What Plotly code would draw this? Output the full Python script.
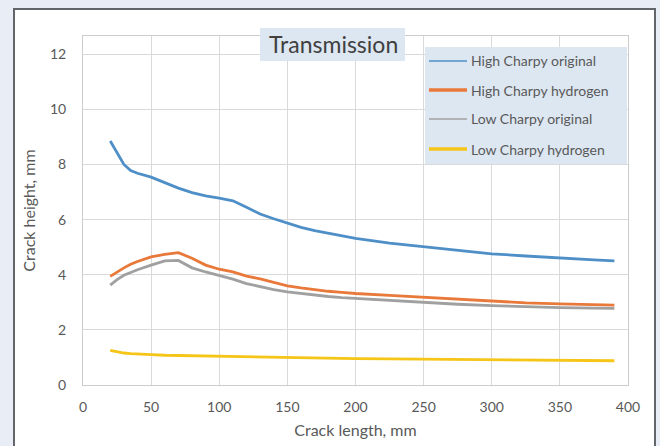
import plotly.graph_objects as go

crack_length = [20, 25, 30, 35, 40, 50, 60, 70, 80, 90, 100, 110, 120, 130, 140, 150,
                160, 170, 180, 190, 200, 225, 250, 275, 300, 325, 350, 375, 390]
high_charpy_original = [8.85, 8.4, 8.0, 7.78, 7.68, 7.54, 7.33, 7.14, 6.98, 6.86, 6.78, 6.68,
                        6.45, 6.2, 6.03, 5.87, 5.72, 5.6, 5.5, 5.4, 5.32, 5.15, 5.02, 4.9,
                        4.76, 4.68, 4.6, 4.54, 4.5]
high_charpy_hydrogen = [3.94, 4.1, 4.25, 4.38, 4.48, 4.65, 4.74, 4.8, 4.6, 4.35, 4.2, 4.1,
                        3.95, 3.85, 3.72, 3.6, 3.52, 3.45, 3.4, 3.36, 3.32, 3.25, 3.18, 3.1,
                        3.03, 2.98, 2.94, 2.91, 2.9]
low_charpy_original = [3.62, 3.82, 3.98, 4.08, 4.18, 4.35, 4.5, 4.52, 4.25, 4.1, 3.97, 3.84,
                       3.68, 3.56, 3.46, 3.38, 3.32, 3.26, 3.21, 3.17, 3.14, 3.06, 2.98, 2.93,
                       2.88, 2.84, 2.81, 2.79, 2.78]
low_charpy_hydrogen = [1.26, 1.2, 1.16, 1.14, 1.12, 1.1, 1.08, 1.07, 1.06, 1.05, 1.04, 1.03,
                       1.02, 1.01, 1.0, 0.99, 0.98, 0.98, 0.97, 0.97, 0.96, 0.95, 0.94, 0.93,
                       0.92, 0.91, 0.9, 0.89, 0.88]

series_names = ["High Charpy original", "High Charpy hydrogen",
                "Low Charpy original", "Low Charpy hydrogen"]
series_values = [high_charpy_original, high_charpy_hydrogen,
                 low_charpy_original, low_charpy_hydrogen]
colors = ["#4f8fc7", "#e8793a", "#a0a0a0", "#f5c518"]
legend_widths = [1.5, 3.5, 1.5, 3.5]

x_ticks = [0, 50, 100, 150, 200, 250, 300, 350, 400]
y_ticks = [0, 2, 4, 6, 8, 10, 12]

W, H = 660, 446
L, R, T, B = 83, 32, 36, 61
PW, PH = W - L - R, H - T - B

def px(x):
    return (x - L) / PW

def py(y):
    return (H - B - y) / PH

FONT = "Lato"
TXT = "#595959"

fig = go.Figure()
for name, vals, c in zip(series_names, series_values, colors):
    fig.add_trace(go.Scatter(x=crack_length, y=vals, mode="lines", name=name,
                             line=dict(color=c, width=2.8), showlegend=False))

shapes = [
    dict(type="rect", xref="paper", yref="paper", x0=px(14), x1=px(655), y0=py(452), y1=py(9),
         fillcolor="white", line=dict(color="#62666b", width=2), layer="below"),
    dict(type="rect", xref="paper", yref="paper", x0=px(260), x1=px(405), y0=py(61), y1=py(28),
         fillcolor="#dde7f2", line=dict(width=0), layer="above"),
    dict(type="rect", xref="paper", yref="paper", x0=px(425), x1=px(627), y0=py(164), y1=py(47),
         fillcolor="#dde7f2", line=dict(width=0), layer="above"),
]
annotations = [
    dict(text="Transmission", xref="paper", yref="paper", x=px(333), y=py(44.5),
         xanchor="center", yanchor="middle", showarrow=False,
         font=dict(family=FONT, size=23, color="#404040")),
]
legend_y = [61, 90, 119, 149]
for name, c, lw, ly in zip(series_names, colors, legend_widths, legend_y):
    shapes.append(dict(type="line", xref="paper", yref="paper", x0=px(429), x1=px(467),
                       y0=py(ly), y1=py(ly), line=dict(color=c, width=lw), layer="above"))
    annotations.append(dict(text=name, xref="paper", yref="paper", x=px(469), y=py(ly),
                            xanchor="left", yanchor="middle", showarrow=False,
                            font=dict(family=FONT, size=14, color=TXT)))

fig.update_layout(
    width=W, height=H,
    margin=dict(l=L, r=R, t=T, b=B),
    paper_bgcolor="#e9eef6",
    plot_bgcolor="white",
    font=dict(family=FONT, size=14, color=TXT),
    shapes=shapes,
    annotations=annotations,
    showlegend=False,
    xaxis=dict(range=[0, 400], tickvals=x_ticks, showgrid=True, gridcolor="#dadada",
               gridwidth=1, zeroline=False, showline=True, linecolor="#cccccc", mirror=True,
               ticks="outside", ticklen=9, tickcolor="rgba(0,0,0,0)", automargin=False,
               tickfont=dict(family=FONT, size=14, color=TXT),
               title=dict(text="Crack length, mm", standoff=11,
                          font=dict(family=FONT, size=16, color=TXT))),
    yaxis=dict(range=[0, 12.66], tickvals=y_ticks, showgrid=True, gridcolor="#dadada",
               gridwidth=1, zeroline=False, showline=True, linecolor="#cccccc", mirror=True,
               ticks="outside", ticklen=13, tickcolor="rgba(0,0,0,0)", automargin=False,
               tickfont=dict(family=FONT, size=14, color=TXT),
               title=dict(text="Crack height, mm", standoff=10,
                          font=dict(family=FONT, size=16, color=TXT))),
)

fig.write_html("out.html")
